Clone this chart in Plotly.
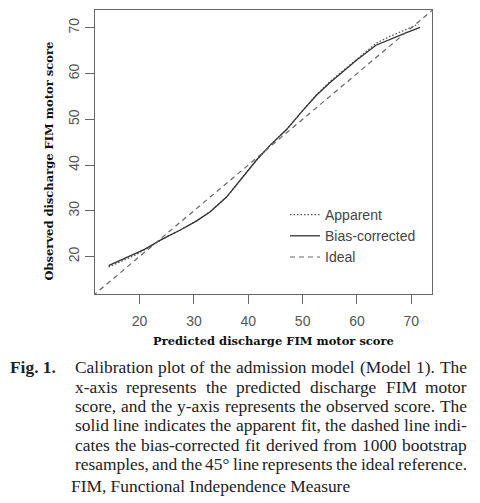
import plotly.graph_objects as go

# calibration curves
pred_bias = [14.3, 17, 19, 21, 24, 27.5, 30.5, 33, 36, 38.6, 41.6, 44, 47, 50, 52.5, 55, 57, 60, 63.5, 66, 69, 71.6]
obs_bias = [18.0, 19.4, 20.4, 21.6, 23.7, 25.8, 27.8, 29.8, 33.0, 36.8, 41.2, 44.3, 47.7, 51.9, 55.2, 58.0, 60.0, 63.0, 66.2, 67.5, 68.9, 70.1]

pred_app = [14.3, 17, 19, 21, 24, 27.5, 30.5, 33, 36, 38.6, 41.6, 44, 47, 50, 52.5, 55, 57, 60, 63.5, 66, 69, 71.3]
obs_app = [17.7, 19.1, 20.2, 21.5, 23.7, 25.8, 27.8, 29.8, 33.0, 36.8, 41.2, 44.3, 47.7, 51.9, 55.3, 58.2, 60.2, 63.3, 66.6, 68.1, 69.6, 70.8]

ideal = [0, 100]

tick_vals = [20, 30, 40, 50, 60, 70]

caption_lines = [
    "Calibration plot of the admission model (Model 1). The",
    "x-axis represents the predicted discharge FIM motor",
    "score, and the y-axis represents the observed score. The",
    "solid line indicates the apparent fit, the dashed line indi-",
    "cates the bias-corrected fit derived from 1000 bootstrap",
    "resamples, and the 45° line represents the ideal reference.",
]
footnote = "FIM, Functional Independence Measure"

W, H = 480, 503
L, R, T, B = 95, 48, 10, 209


def px(x):
    return (x - L) / (W - L - R)


def py(y):
    return (H - B - y) / (H - T - B)


# Times/Liberation Serif advance widths (per 1000 em) for justifying the caption
serif_w = dict(zip("abcdefghijklmnopqrstuvwxyz",
                   [444, 500, 444, 500, 444, 333, 500, 500, 278, 278, 500, 278, 778,
                    500, 500, 500, 500, 333, 389, 278, 500, 500, 722, 500, 500, 444]))
serif_w.update({"C": 667, "M": 889, "T": 611, "F": 556, "I": 333,
                ".": 250, ",": 250, "(": 333, ")": 333, "-": 333, "°": 400, " ": 250})
for d in "0123456789":
    serif_w[d] = 500


def word_width(word, size):
    return sum(serif_w.get(c, 500) for c in word) * size / 1000


fig = go.Figure()
fig.add_trace(go.Scatter(x=pred_app, y=obs_app, mode="lines", name="Apparent",
                         line=dict(color="#555555", width=1.3, dash="1.5px,2px")))
fig.add_trace(go.Scatter(x=pred_bias, y=obs_bias, mode="lines", name="Bias-corrected",
                         line=dict(color="#333333", width=1.3)))
fig.add_trace(go.Scatter(x=ideal, y=ideal, mode="lines", name="Ideal",
                         line=dict(color="#666666", width=1.2, dash="5px,4px")))

axis_style = dict(
    showgrid=False, zeroline=False,
    showline=True, mirror=True, linecolor="#666666", linewidth=1,
    ticks="outside", ticklen=9, tickcolor="#666666",
    tickvals=tick_vals,
    tickfont=dict(family="Liberation Sans", size=14, color="#555555"),
)

fig.update_layout(
    width=W, height=H,
    margin=dict(l=L, r=R, t=T, b=B),
    paper_bgcolor="white", plot_bgcolor="white",
    showlegend=True,
    legend=dict(x=px(285), y=py(199), xanchor="left", yanchor="top",
                bgcolor="rgba(0,0,0,0)",
                font=dict(family="Liberation Sans", size=14, color="#444444"),
                tracegroupgap=0, itemwidth=30),
    xaxis=dict(range=[11.8, 73.8], ticklabelstandoff=5, **axis_style),
    yaxis=dict(range=[11.8, 73.9], tickangle=-90, **axis_style),
)

serif_bold = dict(family="DejaVu Serif", size=11.5, color="#111111")
fig.add_annotation(text="<b>Predicted discharge FIM motor score</b>", x=px(273), y=py(341),
                   xref="paper", yref="paper", xanchor="center", yanchor="middle",
                   showarrow=False, font=serif_bold)
fig.add_annotation(text="<b>Observed discharge FIM motor score</b>", x=px(48.5), y=py(161),
                   xref="paper", yref="paper", xanchor="center", yanchor="middle",
                   showarrow=False, textangle=-90, font=serif_bold)

cap_size = 17.4
cap_font = dict(family="Liberation Serif", size=cap_size, color="#222222")
fig.add_annotation(text="<b>Fig. 1.</b>", x=px(8), y=py(367), xref="paper", yref="paper",
                   xanchor="left", yanchor="middle", showarrow=False, font=cap_font)

# justified caption: words spread between x=75 and x=467
left, right = 75, 467
line_y = [367, 386.5, 406, 425, 444.5, 464]
for txt, yy in zip(caption_lines, line_y):
    words = txt.split(" ")
    widths = [word_width(w, cap_size) for w in words]
    gap = (right - left - sum(widths)) / (len(words) - 1)
    xpos = left
    for w, ww in zip(words, widths):
        fig.add_annotation(text=w, x=px(xpos - 2), y=py(yy), xref="paper", yref="paper",
                           xanchor="left", yanchor="middle", showarrow=False, font=cap_font)
        xpos += ww + gap

fig.add_annotation(text=footnote, x=px(69), y=py(486), xref="paper", yref="paper",
                   xanchor="left", yanchor="middle", showarrow=False, font=cap_font)

fig.write_html("out.html", config={"displayModeBar": False},
               post_script="document.body.style.margin='0';")
